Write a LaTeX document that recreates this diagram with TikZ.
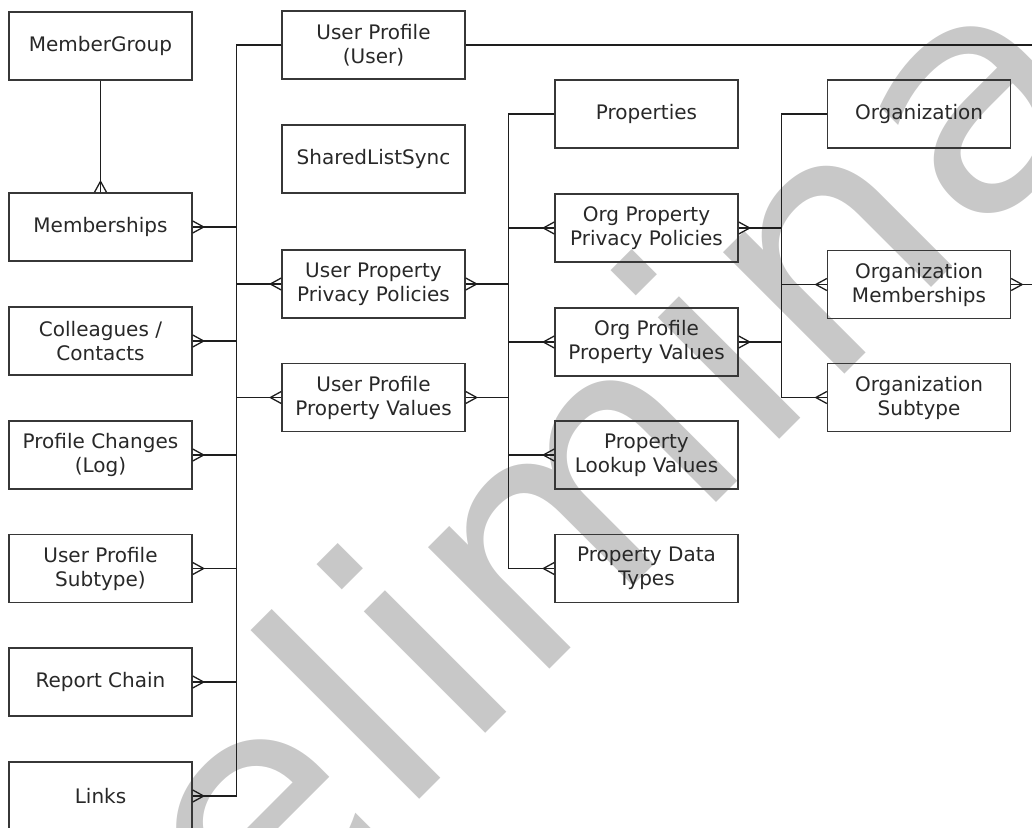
\documentclass[tikz,border=0pt]{standalone}
\usepackage{fontspec}
\setmainfont{DejaVu Sans}
\definecolor{wmgray}{RGB}{200,200,200}
\definecolor{boxline}{RGB}{55,55,55}
\definecolor{boxtext}{RGB}{40,40,40}
\definecolor{linkline}{RGB}{30,30,30}
\tikzset{
entity/.style={draw=boxline, line width=1.4, text=boxtext, minimum width=183, minimum height=68,
  align=center, inner sep=2, font=\fontsize{20}{24}\selectfont},
link/.style={draw=linkline, line width=1.3},
wmark/.style={text=wmgray, rotate=45, xscale=1.06, anchor=base west, inner sep=0,
  font=\fontsize{314}{314}\selectfont},
crowfoot/.pic={
  \draw[link] (0,-6) -- (11,0) -- (0,6);
  \draw[link] (0,0) -- (11,0);
  }
}

\begin{document}
\begin{tikzpicture}[x=1pt, y=-1pt]
  \useasboundingbox (0,0) rectangle (1032,827);
  \node[wmark] (prelim) at (23.5,1195.5) {Preliminary};

  \node[entity] (mgroup) at (100.5,46) {MemberGroup};
  \node[entity] (memb) at (100.5,227) {Memberships};
  \node[entity] (coll) at (100.5,341) {Colleagues /\\Contacts};
  \node[entity] (pchg) at (100.5,455) {Profile Changes\\(Log)};
  \node[entity] (ustype) at (100.5,568.5) {User Profile\\Subtype)};
  \node[entity] (rchain) at (100.5,682) {Report Chain};
  \node[entity] (links) at (100.5,796) {Links};

  \node[entity] (uprof) at (373.5,45) {User Profile\\(User)};
  \node[entity] (slsync) at (373.5,159) {SharedListSync};
  \node[entity] (uppp) at (373.5,284) {User Property\\Privacy Policies};
  \node[entity] (uppv) at (373.5,397.5) {User Profile\\Property Values};

  \node[entity] (props) at (646.5,114) {Properties};
  \node[entity] (oppp) at (646.5,228) {Org Property\\Privacy Policies};
  \node[entity] (oppv) at (646.5,342) {Org Profile\\Property Values};
  \node[entity] (plv) at (646.5,455) {Property\\Lookup Values};
  \node[entity] (pdt) at (646.5,568.5) {Property Data\\Types};

  \node[entity] (org) at (919,114) {Organization};
  \node[entity] (omemb) at (919,284.5) {Organization\\Memberships};
  \node[entity] (osub) at (919,397.5) {Organization\\Subtype};

  \coordinate (uprofout) at (1040,45);
  \coordinate (omembout) at (1040,284.5);

  \draw[link] (mgroup.south) -- (memb.north);
  \pic[rotate=90] at (memb.north) {crowfoot};

  \foreach \n in {memb, coll, pchg, ustype, rchain, links} {
    \draw[link] (uprof.west) -- ++(-45,0) |- (\n.east);
    \pic at (\n.east) {crowfoot};
  }
  \foreach \n in {uppp, uppv} {
    \draw[link] (uprof.west) -- ++(-45,0) |- (\n.west);
    \pic[rotate=180] at (\n.west) {crowfoot};
  }
  \draw[link] (uprof.east) -- (uprofout);

  \foreach \n in {uppp, uppv} {
    \draw[link] (props.west) -- ++(-46,0) |- (\n.east);
    \pic at (\n.east) {crowfoot};
  }
  \foreach \n in {oppp, oppv, plv, pdt} {
    \draw[link] (props.west) -- ++(-46,0) |- (\n.west);
    \pic[rotate=180] at (\n.west) {crowfoot};
  }

  \foreach \n in {oppp, oppv} {
    \draw[link] (org.west) -- ++(-45,0) |- (\n.east);
    \pic at (\n.east) {crowfoot};
  }
  \foreach \n in {omemb, osub} {
    \draw[link] (org.west) -- ++(-45,0) |- (\n.west);
    \pic[rotate=180] at (\n.west) {crowfoot};
  }
  \draw[link] (omemb.east) -- (omembout);
  \pic at (omemb.east) {crowfoot};
\end{tikzpicture}
\end{document}
